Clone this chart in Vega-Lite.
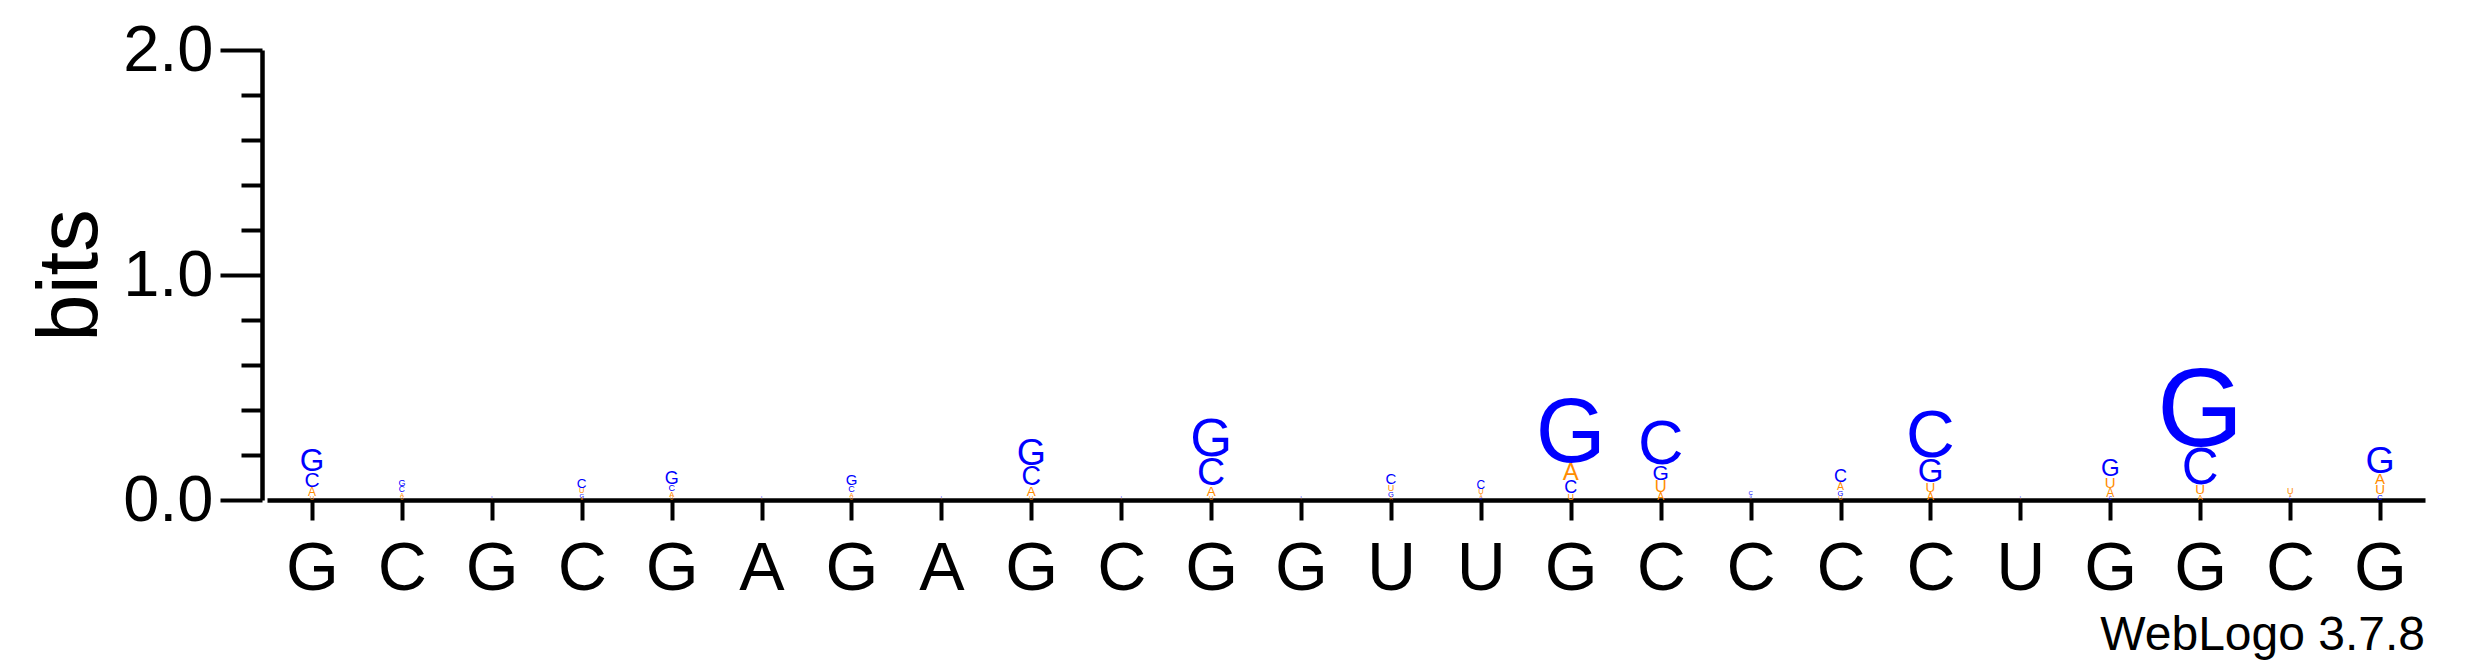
{
  "$schema": "https://vega.github.io/schema/vega-lite/v6.json",
  "autosize": {"type": "none"},
  "padding": {"left": 267, "top": 50, "right": 50, "bottom": 167},
  "width": 2158,
  "height": 450,
  "background": "white",
  "config": {
    "view": {"stroke": null},
    "font": "Liberation Sans",
    "text": {"font": "Liberation Sans"}
  },
  "title": {
    "text": "WebLogo 3.7.8",
    "orient": "bottom",
    "anchor": "end",
    "frame": "group",
    "font": "Liberation Sans",
    "fontSize": 48,
    "fontWeight": "normal",
    "color": "black",
    "offset": 9
  },
  "data": {
    "values": [
      {"pos": 1, "letter": "G", "bits": 0.105}, {"pos": 1, "letter": "C", "bits": 0.07}, {"pos": 1, "letter": "A", "bits": 0.04}, {"pos": 1, "letter": "U", "bits": 0.02},
      {"pos": 2, "letter": "G", "bits": 0.03}, {"pos": 2, "letter": "C", "bits": 0.028}, {"pos": 2, "letter": "A", "bits": 0.02}, {"pos": 2, "letter": "U", "bits": 0.015},
      {"pos": 3, "letter": "G", "bits": 0.005}, {"pos": 3, "letter": "C", "bits": 0.005}, {"pos": 3, "letter": "A", "bits": 0.004}, {"pos": 3, "letter": "U", "bits": 0.004},
      {"pos": 4, "letter": "G", "bits": 0.02}, {"pos": 4, "letter": "C", "bits": 0.045}, {"pos": 4, "letter": "A", "bits": 0.01}, {"pos": 4, "letter": "U", "bits": 0.025},
      {"pos": 5, "letter": "G", "bits": 0.06}, {"pos": 5, "letter": "C", "bits": 0.03}, {"pos": 5, "letter": "A", "bits": 0.025}, {"pos": 5, "letter": "U", "bits": 0.015},
      {"pos": 6, "letter": "G", "bits": 0.005}, {"pos": 6, "letter": "C", "bits": 0.005}, {"pos": 6, "letter": "A", "bits": 0.004}, {"pos": 6, "letter": "U", "bits": 0.004},
      {"pos": 7, "letter": "G", "bits": 0.05}, {"pos": 7, "letter": "C", "bits": 0.03}, {"pos": 7, "letter": "A", "bits": 0.02}, {"pos": 7, "letter": "U", "bits": 0.015},
      {"pos": 8, "letter": "G", "bits": 0.005}, {"pos": 8, "letter": "C", "bits": 0.005}, {"pos": 8, "letter": "A", "bits": 0.004}, {"pos": 8, "letter": "U", "bits": 0.004},
      {"pos": 9, "letter": "G", "bits": 0.125}, {"pos": 9, "letter": "C", "bits": 0.09}, {"pos": 9, "letter": "A", "bits": 0.045}, {"pos": 9, "letter": "U", "bits": 0.02},
      {"pos": 10, "letter": "G", "bits": 0.005}, {"pos": 10, "letter": "C", "bits": 0.005}, {"pos": 10, "letter": "A", "bits": 0.004}, {"pos": 10, "letter": "U", "bits": 0.004},
      {"pos": 11, "letter": "G", "bits": 0.18}, {"pos": 11, "letter": "C", "bits": 0.13}, {"pos": 11, "letter": "A", "bits": 0.045}, {"pos": 11, "letter": "U", "bits": 0.02},
      {"pos": 12, "letter": "G", "bits": 0.005}, {"pos": 12, "letter": "C", "bits": 0.005}, {"pos": 12, "letter": "A", "bits": 0.004}, {"pos": 12, "letter": "U", "bits": 0.004},
      {"pos": 13, "letter": "G", "bits": 0.025}, {"pos": 13, "letter": "C", "bits": 0.05}, {"pos": 13, "letter": "A", "bits": 0.015}, {"pos": 13, "letter": "U", "bits": 0.03},
      {"pos": 14, "letter": "G", "bits": 0.01}, {"pos": 14, "letter": "C", "bits": 0.04}, {"pos": 14, "letter": "A", "bits": 0.015}, {"pos": 14, "letter": "U", "bits": 0.025},
      {"pos": 15, "letter": "G", "bits": 0.3}, {"pos": 15, "letter": "C", "bits": 0.06}, {"pos": 15, "letter": "A", "bits": 0.08}, {"pos": 15, "letter": "U", "bits": 0.03},
      {"pos": 16, "letter": "G", "bits": 0.07}, {"pos": 16, "letter": "C", "bits": 0.21}, {"pos": 16, "letter": "A", "bits": 0.035}, {"pos": 16, "letter": "U", "bits": 0.055},
      {"pos": 17, "letter": "G", "bits": 0.01}, {"pos": 17, "letter": "C", "bits": 0.02}, {"pos": 17, "letter": "A", "bits": 0.006}, {"pos": 17, "letter": "U", "bits": 0.006},
      {"pos": 18, "letter": "G", "bits": 0.025}, {"pos": 18, "letter": "C", "bits": 0.06}, {"pos": 18, "letter": "A", "bits": 0.035}, {"pos": 18, "letter": "U", "bits": 0.02},
      {"pos": 19, "letter": "G", "bits": 0.11}, {"pos": 19, "letter": "C", "bits": 0.225}, {"pos": 19, "letter": "A", "bits": 0.035}, {"pos": 19, "letter": "U", "bits": 0.045},
      {"pos": 20, "letter": "G", "bits": 0.005}, {"pos": 20, "letter": "C", "bits": 0.005}, {"pos": 20, "letter": "A", "bits": 0.004}, {"pos": 20, "letter": "U", "bits": 0.004},
      {"pos": 21, "letter": "G", "bits": 0.08}, {"pos": 21, "letter": "C", "bits": 0.015}, {"pos": 21, "letter": "A", "bits": 0.04}, {"pos": 21, "letter": "U", "bits": 0.05},
      {"pos": 22, "letter": "G", "bits": 0.37}, {"pos": 22, "letter": "C", "bits": 0.17}, {"pos": 22, "letter": "A", "bits": 0.025}, {"pos": 22, "letter": "U", "bits": 0.045},
      {"pos": 23, "letter": "G", "bits": 0.006}, {"pos": 23, "letter": "C", "bits": 0.01}, {"pos": 23, "letter": "A", "bits": 0.01}, {"pos": 23, "letter": "U", "bits": 0.03},
      {"pos": 24, "letter": "G", "bits": 0.125}, {"pos": 24, "letter": "C", "bits": 0.025}, {"pos": 24, "letter": "A", "bits": 0.05}, {"pos": 24, "letter": "U", "bits": 0.045}
    ]
  },
  "transform": [
    {"stack": "bits", "groupby": ["pos"], "sort": [{"field": "bits", "order": "ascending"}], "as": ["b0", "b1"]}
  ],
  "mark": {"type": "text", "align": "center", "baseline": "alphabetic", "font": "Liberation Sans"},
  "encoding": {
    "x": {
      "field": "pos",
      "type": "ordinal",
      "scale": {"padding": 0.5},
      "axis": {
        "title": null,
        "labelAngle": 0,
        "labelExpr": "['G','C','G','C','G','A','G','A','G','C','G','G','U','U','G','C','C','C','C','U','G','G','C','G'][datum.value - 1]",
        "labelFont": "Liberation Sans",
        "labelFontSize": 68,
        "labelColor": "black",
        "labelPadding": 15,
        "domainColor": "black",
        "domainWidth": 4.5,
        "tickColor": "black",
        "tickWidth": 4,
        "tickSize": 20,
        "grid": false
      }
    },
    "y": {
      "field": "b0",
      "type": "quantitative",
      "scale": {"domain": [0, 2], "nice": false, "zero": true},
      "axis": {
        "title": "bits",
        "titleFont": "Liberation Sans",
        "titleFontSize": 85,
        "titleFontWeight": "normal",
        "titleColor": "black",
        "titlePadding": 8,
        "offset": 5,
        "values": [0, 0.2, 0.4, 0.6, 0.8, 1, 1.2, 1.4, 1.6, 1.8, 2],
        "format": ".1f",
        "labelExpr": "datum.value % 1 === 0 ? datum.label : ''",
        "labelFont": "Liberation Sans",
        "labelFontSize": 65,
        "labelColor": "black",
        "labelPadding": 7,
        "labelBaseline": "middle",
        "domainColor": "black",
        "domainWidth": 4.5,
        "tickColor": "black",
        "tickWidth": 4,
        "tickSize": {"condition": {"test": "datum.value % 1 === 0", "value": 42}, "value": 21},
        "grid": false
      }
    },
    "text": {"field": "letter"},
    "size": {"field": "bits", "type": "quantitative", "scale": {"type": "linear", "domain": [0, 1], "range": [0, 300], "zero": true}, "legend": null},
    "color": {"field": "letter", "type": "nominal", "scale": {"domain": ["A", "C", "G", "U"], "range": ["#FF8C00", "#0000FF", "#0000FF", "#FF8C00"]}, "legend": null}
  }
}
